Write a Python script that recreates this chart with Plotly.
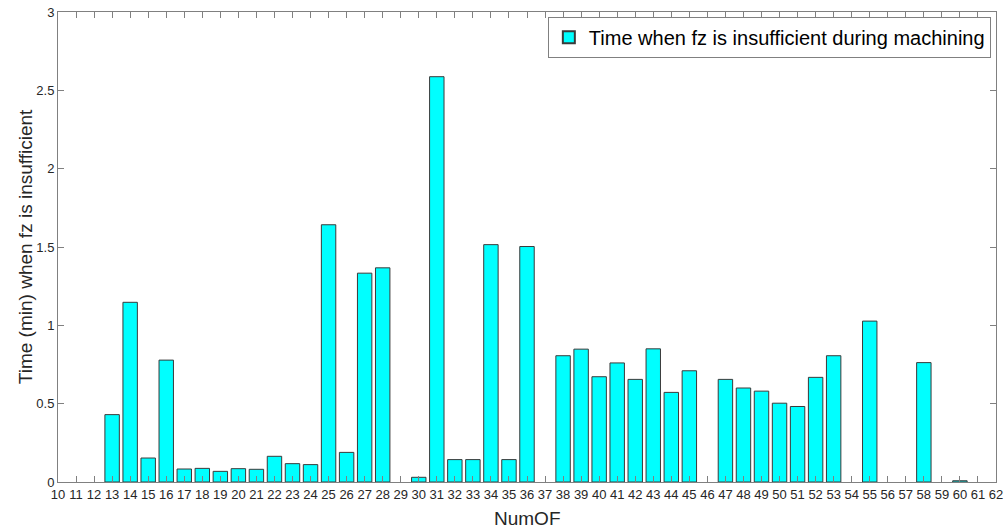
import plotly.graph_objects as go

# NumOF categories and measured times (min); None = no bar drawn
num_of = list(range(13, 61))
time_min = [0.43, 1.147, 0.153, 0.778, 0.083, 0.087, 0.068, 0.085, 0.081, 0.164,
            0.117, 0.111, 1.642, 0.189, 1.333, 1.367, None, 0.03, 2.587, 0.143,
            0.143, 1.515, 0.143, 1.503, None, 0.806, 0.848, 0.672, 0.76, 0.655,
            0.85, 0.572, 0.71, None, 0.655, 0.6, 0.58, 0.503, 0.482, 0.668,
            0.806, None, 1.027, None, None, 0.762, None, 0.008]

legend_name = "Time when fz is insufficient during machining"
x_title = "NumOF"
y_title = "Time (min) when fz is insufficient"
x_ticks = list(range(10, 63))
y_ticks = [0, 0.5, 1, 1.5, 2, 2.5, 3]

axis_col = "#808080"
text_col = "#262626"
font_fam = "Liberation Sans, Arial, sans-serif"

bars = go.Bar(
    x=num_of, y=time_min, width=0.8, name=legend_name,
    marker=dict(color="#00FFFF", line=dict(color="#3a3a3a", width=1)),
    showlegend=True,
)

fig = go.Figure(data=[bars])
fig.update_layout(
    width=1007, height=532,
    margin=dict(l=58, r=11, t=12, b=50),
    paper_bgcolor="white", plot_bgcolor="white",
    font=dict(family=font_fam, color=text_col, size=13),
    showlegend=True,
    legend=dict(
        x=0.9945, y=0.99, xanchor="right", yanchor="top",
        bgcolor="white", bordercolor=axis_col, borderwidth=1,
        font=dict(size=20, color="black"),
        itemsizing="constant",
    ),
    xaxis=dict(
        range=[10, 62], tickmode="array", tickvals=x_ticks,
        ticks="inside", ticklen=6, tickcolor=axis_col,
        showline=True, linecolor=axis_col, linewidth=1, mirror="ticks",
        showgrid=False, zeroline=False, automargin=False,
        tickfont=dict(size=13, color=text_col),
    ),
    yaxis=dict(
        range=[0, 3], tickmode="array", tickvals=y_ticks,
        ticktext=["0", "0.5", "1", "1.5", "2", "2.5", "3"],
        ticks="inside", ticklen=6, tickcolor=axis_col,
        showline=True, linecolor=axis_col, linewidth=1, mirror="ticks",
        showgrid=False, zeroline=False, automargin=False,
        tickfont=dict(size=13, color=text_col),
    ),
)

# axis titles placed as annotations (MATLAB-like positions)
fig.add_annotation(text=x_title, xref="paper", yref="paper", x=0.5, y=-0.077,
                   xanchor="center", yanchor="middle", showarrow=False,
                   font=dict(size=19, color=text_col))
fig.add_annotation(text=y_title, xref="paper", yref="paper", x=-0.035, y=0.5,
                   xanchor="center", yanchor="middle", textangle=-90, showarrow=False,
                   font=dict(size=19, color=text_col))

fig.write_html("out.html", config={"displayModeBar": False},
               post_script="document.body.style.margin='0';")
